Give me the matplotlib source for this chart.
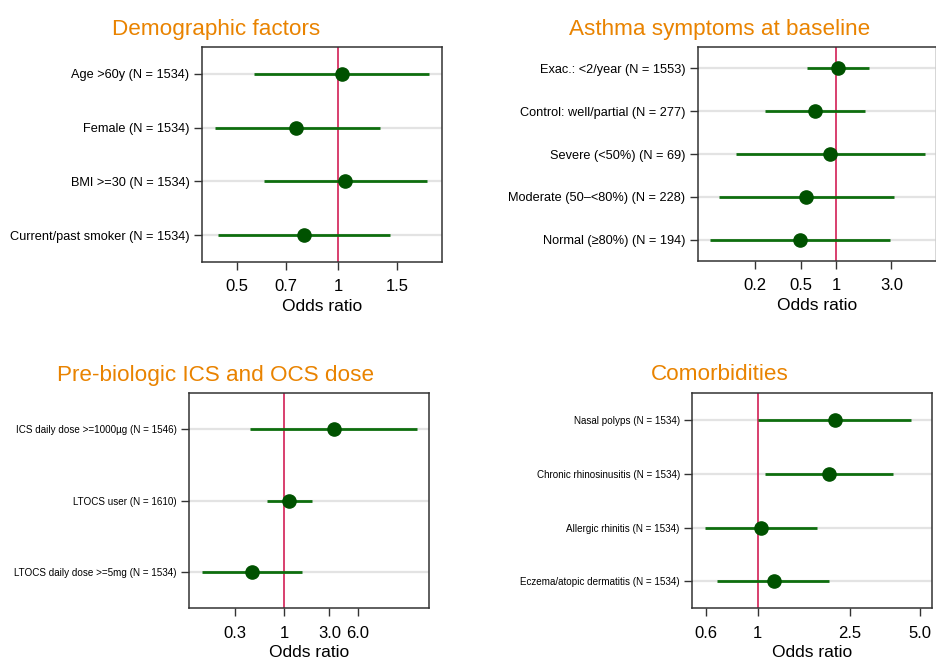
import matplotlib
matplotlib.use("Agg")
import matplotlib.pyplot as plt
from matplotlib.ticker import FixedLocator, NullLocator

plt.rcParams["font.family"] = ["Liberation Sans", "DejaVu Sans"]

# Demographic factors
demo_labels = ["Age >60y (N = 1534)", "Female (N = 1534)", "BMI >=30 (N = 1534)",
               "Current/past smoker (N = 1534)"]
demo_or = [1.03, 0.75, 1.05, 0.79]
demo_lo = [0.56, 0.43, 0.60, 0.44]
demo_hi = [1.87, 1.33, 1.84, 1.43]

# Asthma symptoms at baseline
asthma_labels = ["Exac.: <2/year (N = 1553)", "Control: well/partial (N = 277)",
                 "Severe (<50%) (N = 69)", "Moderate (50\u2013<80%) (N = 228)",
                 "Normal (\u226580%) (N = 194)"]
asthma_or = [1.03, 0.66, 0.89, 0.55, 0.49]
asthma_lo = [0.56, 0.245, 0.137, 0.098, 0.082]
asthma_hi = [1.91, 1.78, 5.8, 3.15, 2.91]

# Pre-biologic ICS and OCS dose
dose_labels = ["ICS daily dose >=1000\u00b5g (N = 1546)", "LTOCS user (N = 1610)",
               "LTOCS daily dose >=5mg (N = 1534)"]
dose_or = [3.32, 1.14, 0.46]
dose_lo = [0.44, 0.66, 0.137]
dose_hi = [25.0, 1.95, 1.55]

# Comorbidities
comorb_labels = ["Nasal polyps (N = 1534)", "Chronic rhinosinusitis (N = 1534)",
                 "Allergic rhinitis (N = 1534)", "Eczema/atopic dermatitis (N = 1534)"]
comorb_or = [2.16, 2.03, 1.03, 1.17]
comorb_lo = [1.006, 1.07, 0.59, 0.67]
comorb_hi = [4.59, 3.85, 1.80, 2.04]

TITLE_COLOR = "#E98300"
LINE_GREEN = "#0E6E0E"
DOT_GREEN = "#005200"
REF_RED = "#D21F55"


def forest(ax, labels, ors, lo, hi, xlim, ticks, ticklabels, ylab_size):
    n = len(labels)
    ypos = [n - 1 - i for i in range(n)]
    ax.set_xscale("log")
    ax.set_xlim(*xlim)
    ax.set_ylim(-0.5, n - 0.5)
    for y in ypos:
        ax.axhline(y, color="#E3E3E3", lw=1.6, zorder=1)
    ax.axvline(1, color=REF_RED, lw=1.2, zorder=2)
    ax.hlines(ypos, lo, hi, color=LINE_GREEN, lw=2, zorder=3)
    ax.plot(ors, ypos, "o", color=DOT_GREEN, ms=9.5, zorder=4)
    ax.set_yticks(ypos)
    ax.set_yticklabels(labels, fontsize=ylab_size)
    ax.xaxis.set_major_locator(FixedLocator(ticks))
    ax.xaxis.set_minor_locator(NullLocator())
    ax.set_xticklabels(ticklabels, fontsize=12)
    ax.tick_params(axis="x", length=5.5, width=1, pad=7, color="#333333")
    ax.tick_params(axis="y", length=5.5, width=1, pad=3.5, color="#333333")
    ax.set_xlabel("Odds ratio", fontsize=12.5, labelpad=3)
    for s in ax.spines.values():
        s.set_color("#333333")
        s.set_linewidth(1.1)


fig = plt.figure(figsize=(9.37, 6.64), dpi=100)

ax1 = fig.add_axes([0.2156, 0.6054, 0.2561, 0.3238])
forest(ax1, demo_labels, demo_or, demo_lo, demo_hi, (0.393, 2.04),
       [0.5, 0.7, 1, 1.5], ["0.5", "0.7", "1", "1.5"], 9.2)

ax2 = fig.add_axes([0.7449, 0.6069, 0.2541, 0.3223])
forest(ax2, asthma_labels, asthma_or, asthma_lo, asthma_hi, (0.064, 7.3),
       [0.2, 0.5, 1, 3], ["0.2", "0.5", "1", "3.0"], 9.2)
ax2.spines["right"].set_color("#CCCCCC")

ax3 = fig.add_axes([0.2020, 0.0839, 0.2558, 0.3238])
forest(ax3, dose_labels, dose_or, dose_lo, dose_hi, (0.10, 33.7),
       [0.3, 1, 3, 6], ["0.3", "1", "3.0", "6.0"], 7.1)

ax4 = fig.add_axes([0.7389, 0.0839, 0.2558, 0.3238])
forest(ax4, comorb_labels, comorb_or, comorb_lo, comorb_hi, (0.522, 5.66),
       [0.6, 1, 2.5, 5], ["0.6", "1", "2.5", "5.0"], 7.1)

fig.text(216 / 937, 1 - 29 / 664, "Demographic factors", color=TITLE_COLOR,
         fontsize=16.2, ha="center", va="center")
fig.text(720 / 937, 1 - 29 / 664, "Asthma symptoms at baseline", color=TITLE_COLOR,
         fontsize=16.2, ha="center", va="center")
fig.text(216 / 937, 1 - 375 / 664, "Pre-biologic ICS and OCS dose", color=TITLE_COLOR,
         fontsize=16.2, ha="center", va="center")
fig.text(720 / 937, 1 - 375 / 664, "Comorbidities", color=TITLE_COLOR,
         fontsize=16.2, ha="center", va="center")

fig.savefig("out.png", dpi=100)
